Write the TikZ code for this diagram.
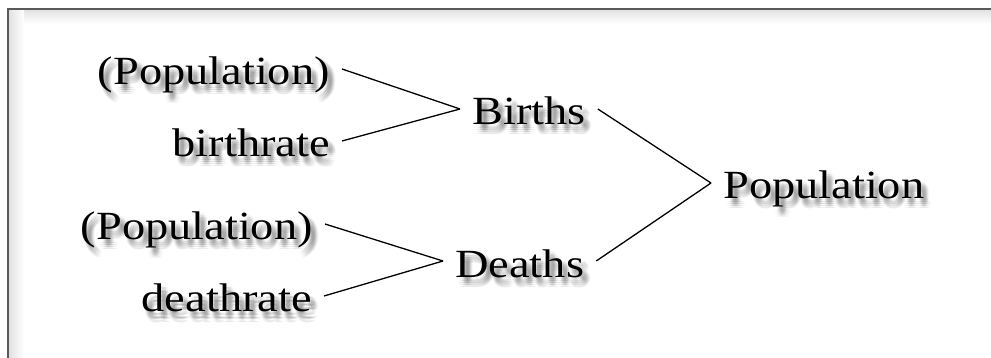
\documentclass[tikz,border=0pt]{standalone}
\usepackage{fontspec}
\usepackage{graphicx}
\setmainfont{Liberation Serif}
\usetikzlibrary{calc}

\tikzset{
  lbl/.style={inner xsep=12pt, inner ysep=0pt, text height=32pt, text depth=0pt,
              font=\fontsize{40}{40}\selectfont},
  ghost/.style={lbl, text=black, text opacity=0.045},
  link/.style={draw=black, line width=1.3pt},
  framerule/.style={draw=black!65, line width=1.5pt},
}

% slightly widened lettering
\newcommand\wtext[1]{\scalebox{1.16}[1]{#1}}

% one displaced copy of a text, taking no width
\newcommand\offcopy[3]{\makebox[0pt][l]{\hspace*{#1pt}\raisebox{-#2pt}{#3}}}

% a soft smear of copies for a drop shadow
\newcommand\smear[1]{%
  \offcopy{3}{4}{#1}\offcopy{5}{4}{#1}\offcopy{7}{4}{#1}%
  \offcopy{2}{6}{#1}\offcopy{4}{6}{#1}\offcopy{6}{6}{#1}\offcopy{8}{6}{#1}%
  \offcopy{3}{8}{#1}\offcopy{5}{8}{#1}\offcopy{7}{8}{#1}%
  \offcopy{5}{2}{#1}\offcopy{4}{10}{#1}\offcopy{6}{10}{#1}%
  \phantom{#1}}

% a label with its drop shadow beneath it
\newcommand\shadedlabel[4]{%
  \node[ghost, anchor=#2] (#1s) at (#3) {\smear{\wtext{#4}}};
  \node[lbl, anchor=#2] (#1) at (#3) {\wtext{#4}};}

\begin{document}
\begin{tikzpicture}[x=1pt, y=-1pt]
  \fill[white] (0,0) rectangle (991,358);
  \useasboundingbox (0,0) rectangle (991,358);

  % panel edge with its inner shading
  \shade[top color=black!12, bottom color=white] (8,9) rectangle (991,24);
  \shade[left color=black!12, right color=white] (8,9) rectangle (24,358);
  \draw[framerule] (991,9) -- (8,9) -- (8,358);

  % labels
  \shadedlabel{popa}{base east}{342,85}{(Population)}
  \shadedlabel{brate}{base east}{342,157}{birthrate}
  \shadedlabel{popb}{base east}{325,240}{(Population)}
  \shadedlabel{drate}{base east}{324,312}{deathrate}
  \shadedlabel{births}{base west}{460,125}{Births}
  \shadedlabel{deaths}{base west}{443,277}{Deaths}
  \shadedlabel{popn}{base west}{711,199}{Population}

  % connectors
  \draw[link] (popa.east) -- (births.west);
  \draw[link] (brate.east) -- (births.west);
  \draw[link] (popb.east) -- (deaths.west);
  \draw[link] (drate.east) -- (deaths.west);
  \draw[link] (births.east) -- (popn.west);
  \draw[link] (deaths.east) -- (popn.west);
\end{tikzpicture}
\end{document}
